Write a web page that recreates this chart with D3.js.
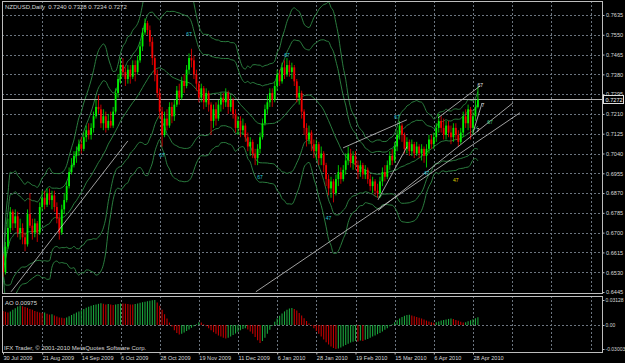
<!DOCTYPE html>
<html>
<head>
<meta charset="utf-8">
<script src="https://cdn.jsdelivr.net/npm/d3@7"></script>
<style>
	html, body { margin: 0; padding: 0; background: #000; }
	svg { display: block; }
</style>
</head>
<body>
<div id="chart"></div>
<script>
/* NZDUSD daily candles with bands, trend lines and an Awesome Oscillator pane */

const symbol = 'NZDUSD,Daily';
const firstOpen = 0.6600;

const closes = [
	0.6530, 0.6640, 0.6720, 0.6790, 0.6740, 0.6770, 0.6700, 0.6720, 0.6680, 0.6650,
	0.6780, 0.6730, 0.6700, 0.6740, 0.6700, 0.6810, 0.6850, 0.6820, 0.6870, 0.6840,
	0.6860, 0.6810, 0.6760, 0.6700, 0.6800, 0.6840, 0.6900, 0.6960, 0.6990, 0.7030,
	0.7050, 0.7080, 0.7060, 0.7110, 0.7140, 0.7120, 0.7150, 0.7200, 0.7240, 0.7230,
	0.7170, 0.7200, 0.7150, 0.7180, 0.7160, 0.7220, 0.7300, 0.7360, 0.7420, 0.7390,
	0.7360, 0.7400, 0.7370, 0.7420, 0.7390, 0.7440, 0.7500, 0.7560, 0.7600, 0.7570,
	0.7520, 0.7450, 0.7380, 0.7300, 0.7220, 0.7120, 0.7190, 0.7160, 0.7240, 0.7200,
	0.7250, 0.7310, 0.7280, 0.7350, 0.7330, 0.7400, 0.7450, 0.7440, 0.7380, 0.7340,
	0.7280, 0.7320, 0.7260, 0.7300, 0.7250, 0.7180, 0.7230, 0.7190, 0.7250, 0.7280,
	0.7260, 0.7300, 0.7240, 0.7270, 0.7210, 0.7150, 0.7180, 0.7140, 0.7160, 0.7110,
	0.7070, 0.7090, 0.7040, 0.7020, 0.7060, 0.7110, 0.7170, 0.7230, 0.7260, 0.7300,
	0.7270, 0.7330, 0.7380, 0.7350, 0.7410, 0.7380, 0.7420, 0.7390, 0.7410, 0.7350,
	0.7280, 0.7300, 0.7220, 0.7150, 0.7100, 0.7130, 0.7080, 0.7050, 0.7080, 0.7020,
	0.7040, 0.6990, 0.6930, 0.6890, 0.6920, 0.6870, 0.6930, 0.6960, 0.6930, 0.6970,
	0.7010, 0.7040, 0.7000, 0.7030, 0.6990, 0.6960, 0.6990, 0.6950, 0.6970, 0.6930,
	0.6900, 0.6920, 0.6880, 0.6870, 0.6920, 0.6960, 0.6940, 0.6990, 0.7030, 0.7010,
	0.7070, 0.7120, 0.7160, 0.7120, 0.7060, 0.7090, 0.7050, 0.7080, 0.7040, 0.7070,
	0.7040, 0.7060, 0.7030, 0.7060, 0.7100, 0.7080, 0.7110, 0.7150, 0.7180, 0.7150,
	0.7120, 0.7160, 0.7130, 0.7110, 0.7150, 0.7120, 0.7090, 0.7130, 0.7200, 0.7170,
	0.7230, 0.7150, 0.7200, 0.7240, 0.7272,
];

const highs = [
	0.6610, 0.6660, 0.6760, 0.6810, 0.6800, 0.6800, 0.6790, 0.6760, 0.6740, 0.6700,
	0.6800, 0.6870, 0.6760, 0.6760, 0.6750, 0.6830, 0.6880, 0.6880, 0.6890, 0.6890,
	0.6880, 0.6880, 0.6830, 0.6780, 0.6820, 0.6870, 0.6920, 0.6980, 0.7020, 0.7050,
	0.7070, 0.7100, 0.7110, 0.7130, 0.7160, 0.7170, 0.7170, 0.7220, 0.7270, 0.7290,
	0.7250, 0.7230, 0.7220, 0.7210, 0.7220, 0.7240, 0.7320, 0.7380, 0.7450, 0.7450,
	0.7410, 0.7420, 0.7420, 0.7440, 0.7440, 0.7460, 0.7520, 0.7580, 0.7620, 0.7610,
	0.7590, 0.7540, 0.7460, 0.7400, 0.7320, 0.7240, 0.7220, 0.7230, 0.7260, 0.7260,
	0.7270, 0.7330, 0.7340, 0.7370, 0.7380, 0.7420, 0.7470, 0.7490, 0.7460, 0.7400,
	0.7350, 0.7340, 0.7330, 0.7320, 0.7310, 0.7260, 0.7250, 0.7260, 0.7270, 0.7300,
	0.7300, 0.7320, 0.7310, 0.7290, 0.7280, 0.7230, 0.7200, 0.7200, 0.7190, 0.7170,
	0.7130, 0.7110, 0.7100, 0.7060, 0.7080, 0.7130, 0.7190, 0.7250, 0.7290, 0.7320,
	0.7320, 0.7350, 0.7400, 0.7400, 0.7430, 0.7440, 0.7450, 0.7440, 0.7430, 0.7420,
	0.7360, 0.7330, 0.7310, 0.7230, 0.7170, 0.7160, 0.7140, 0.7100, 0.7100, 0.7090,
	0.7070, 0.7050, 0.7000, 0.6950, 0.6940, 0.6930, 0.6950, 0.6990, 0.6980, 0.6990,
	0.7040, 0.7070, 0.7060, 0.7050, 0.7050, 0.7010, 0.7010, 0.7000, 0.6990, 0.6980,
	0.6950, 0.6940, 0.6930, 0.6910, 0.6940, 0.6980, 0.6990, 0.7010, 0.7050, 0.7060,
	0.7090, 0.7140, 0.7180, 0.7170, 0.7130, 0.7110, 0.7100, 0.7100, 0.7090, 0.7090,
	0.7080, 0.7080, 0.7070, 0.7080, 0.7120, 0.7120, 0.7130, 0.7170, 0.7210, 0.7200,
	0.7190, 0.7180, 0.7180, 0.7160, 0.7170, 0.7170, 0.7140, 0.7150, 0.7220, 0.7230,
	0.7250, 0.7240, 0.7220, 0.7270, 0.7328,
];

const lows = [
	0.6510, 0.6520, 0.6630, 0.6700, 0.6710, 0.6720, 0.6680, 0.6670, 0.6650, 0.6620,
	0.6640, 0.6720, 0.6670, 0.6680, 0.6660, 0.6690, 0.6790, 0.6800, 0.6810, 0.6820,
	0.6800, 0.6790, 0.6740, 0.6670, 0.6690, 0.6780, 0.6830, 0.6890, 0.6950, 0.6980,
	0.7000, 0.7030, 0.7040, 0.7050, 0.7090, 0.7100, 0.7100, 0.7130, 0.7190, 0.7210,
	0.7150, 0.7140, 0.7130, 0.7140, 0.7150, 0.7150, 0.7210, 0.7280, 0.7340, 0.7370,
	0.7330, 0.7340, 0.7340, 0.7360, 0.7350, 0.7380, 0.7430, 0.7480, 0.7550, 0.7550,
	0.7500, 0.7420, 0.7350, 0.7280, 0.7190, 0.7070, 0.7110, 0.7140, 0.7150, 0.7170,
	0.7180, 0.7240, 0.7250, 0.7270, 0.7300, 0.7320, 0.7380, 0.7410, 0.7360, 0.7310,
	0.7260, 0.7260, 0.7230, 0.7240, 0.7220, 0.7120, 0.7150, 0.7160, 0.7180, 0.7220,
	0.7230, 0.7240, 0.7210, 0.7220, 0.7190, 0.7130, 0.7120, 0.7110, 0.7120, 0.7090,
	0.7050, 0.7030, 0.7020, 0.6990, 0.6990, 0.7040, 0.7100, 0.7160, 0.7210, 0.7240,
	0.7240, 0.7260, 0.7310, 0.7330, 0.7340, 0.7360, 0.7370, 0.7370, 0.7360, 0.7330,
	0.7260, 0.7250, 0.7190, 0.7120, 0.7070, 0.7080, 0.7050, 0.7020, 0.7010, 0.6990,
	0.6990, 0.6960, 0.6900, 0.6860, 0.6850, 0.6830, 0.6860, 0.6900, 0.6910, 0.6920,
	0.6950, 0.6990, 0.6980, 0.6970, 0.6970, 0.6930, 0.6940, 0.6930, 0.6930, 0.6910,
	0.6880, 0.6870, 0.6860, 0.6850, 0.6850, 0.6900, 0.6920, 0.6930, 0.6970, 0.6990,
	0.7000, 0.7050, 0.7100, 0.7090, 0.7040, 0.7040, 0.7030, 0.7030, 0.7020, 0.7030,
	0.7020, 0.7010, 0.7000, 0.6980, 0.7040, 0.7060, 0.7060, 0.7090, 0.7130, 0.7130,
	0.7100, 0.7100, 0.7110, 0.7080, 0.7090, 0.7100, 0.7070, 0.7080, 0.7110, 0.7150,
	0.7140, 0.7100, 0.7120, 0.7180, 0.7234,
];

const aoValues = [
	0.0175, 0.0165, 0.0155, 0.0170, 0.0190, 0.0210, 0.0230, 0.0245, 0.0235, 0.0225,
	0.0215, 0.0200, 0.0190, 0.0175, 0.0165, 0.0155, 0.0150, 0.0155, 0.0140, 0.0130,
	0.0135, 0.0120, 0.0105, 0.0095, 0.0090, 0.0085, 0.0095, 0.0110, 0.0125, 0.0140,
	0.0155, 0.0170, 0.0185, 0.0200, 0.0215, 0.0228, 0.0240, 0.0250, 0.0258, 0.0265,
	0.0272, 0.0265, 0.0258, 0.0262, 0.0255, 0.0250, 0.0256, 0.0262, 0.0270, 0.0268,
	0.0265, 0.0262, 0.0258, 0.0255, 0.0262, 0.0270, 0.0278, 0.0285, 0.0292, 0.0298,
	0.0304, 0.0309, 0.03128, 0.0280, 0.0240, 0.0190, 0.0135, 0.0080, 0.0030, -0.0020,
	-0.0065, -0.0100, -0.0120, -0.0110, -0.0095, -0.0075, -0.0055, -0.0035, -0.0015, 0.0010,
	0.0035, 0.0030, 0.0010, -0.0015, -0.0040, -0.0065, -0.0090, -0.0110, -0.0130, -0.0145,
	-0.0160, -0.0170, -0.0160, -0.0145, -0.0125, -0.0105, -0.0085, -0.0065, -0.0050, -0.0040,
	-0.0055, -0.0080, -0.0110, -0.0150, -0.0190, -0.0225, -0.0200, -0.0160, -0.0110, -0.0060,
	-0.0010, 0.0040, 0.0080, 0.0115, 0.0145, 0.0170, 0.0190, 0.0205, 0.0212, 0.0200,
	0.0180, 0.0150, 0.0120, 0.0085, 0.0050, 0.0020, -0.0010, -0.0040, -0.0075, -0.0110,
	-0.0145, -0.0180, -0.0215, -0.0245, -0.0270, -0.0288, -0.03003, -0.0295, -0.0280, -0.0265,
	-0.0250, -0.0235, -0.0220, -0.0210, -0.0200, -0.0205, -0.0195, -0.0200, -0.0185, -0.0175,
	-0.0160, -0.0145, -0.0130, -0.0115, -0.0100, -0.0080, -0.0060, -0.0040, -0.0015, 0.0010,
	0.0035, 0.0060, 0.0080, 0.0100, 0.0115, 0.0125, 0.0128, 0.0120, 0.0110, 0.0100,
	0.0090, 0.0080, 0.0070, 0.0055, 0.0045, 0.0035, 0.0028, 0.0035, 0.0045, 0.0055,
	0.0062, 0.0070, 0.0076, 0.0080, 0.0074, 0.0064, 0.0052, 0.0040, 0.0030, 0.0035,
	0.0048, 0.0060, 0.0072, 0.0085, 0.00975,
];

const priceTicks = [
	0.7635, 0.7550, 0.7465, 0.7380, 0.7295, 0.7210, 0.7125, 0.7040,
	0.6955, 0.6870, 0.6785, 0.6700, 0.6615, 0.6530, 0.6445,
];
const aoTicks = [ 0.03128, 0, -0.03003 ];

const dateLabels = [
	'30 Jul 2009', '21 Aug 2009', '14 Sep 2009', '6 Oct 2009', '28 Oct 2009',
	'19 Nov 2009', '11 Dec 2009', '6 Jan 2010', '28 Jan 2010', '19 Feb 2010',
	'15 Mar 2010', '6 Apr 2010', '28 Apr 2010',
];
const barsPerLabel = 16;

// [ bar, price, bar, price ]
const trendLines = [
	[ 3.3, 0.6446, 51, 0.7094 ],
	[ 103.3, 0.6446, 211.2, 0.7215 ],
	[ 153.2, 0.6795, 208.3, 0.7257 ],
	[ 153.2, 0.6841, 165, 0.7069 ],
	[ 138.9, 0.7064, 165, 0.7185 ],
	[ 177.7, 0.7193, 194.9, 0.7330 ],
	[ 192, 0.7129, 195.7, 0.7257 ],
];

// [ bar, price, text ]
const cyanMarks = [
	[ 76, 0.7553, '67' ], [ 65, 0.7034, '67' ], [ 116, 0.7463, '67' ],
	[ 105, 0.6940, '67' ], [ 133, 0.6764, '47' ], [ 161, 0.7197, '67' ],
	[ 173, 0.6957, '47' ],
];
const yellowMarks = [ [ 185, 0.6927, '47' ] ];
const greenMarks = [ [ 199, 0.7176, '67' ] ];
const whiteMarks = [ [ 195, 0.7335, '67' ], [ 196, 0.7250, '7' ], [ 194, 0.7140, '7' ] ];

const bandPeriod = 20;
const bandDeviations = [ 2, 3 ];

const W = 625;
const H = 363;
const plotLeft = 2;
const plotRight = 602;
const mainTop = 1;
const mainBottom = 293;
const subTop = 296;
const subBottom = 352;
const font = '"Liberation Sans", Arial, sans-serif';
const textColor = '#d8d8d8';
const gridColor = '#6c7580';

const x = d3.scaleLinear().domain( [ 0, 192 ] ).range( [ 3, 473 ] );
const y = d3.scaleLinear().domain( [ 0.6445, 0.7635 ] ).range( [ 292, 15 ] );
const yAo = d3.scaleLinear().domain( [ -0.03003, 0.03128 ] ).range( [ 349, 300 ] );

const svg = d3.select( '#chart' )
	.append( 'svg' )
	.attr( 'width', W )
	.attr( 'height', H )
	.style( 'background', '#000' );

svg.append( 'clipPath' ).attr( 'id', 'clip-main' )
	.append( 'rect' )
	.attr( 'x', plotLeft ).attr( 'y', mainTop )
	.attr( 'width', plotRight - plotLeft ).attr( 'height', mainBottom - mainTop );

svg.append( 'clipPath' ).attr( 'id', 'clip-sub' )
	.append( 'rect' )
	.attr( 'x', plotLeft ).attr( 'y', subTop )
	.attr( 'width', plotRight - plotLeft ).attr( 'height', subBottom - subTop );

// grid
const grid = svg.append( 'g' )
	.attr( 'stroke', gridColor )
	.attr( 'stroke-width', 1 )
	.attr( 'stroke-dasharray', '2,2' )
	.attr( 'shape-rendering', 'crispEdges' );

grid.selectAll( '.hgrid' )
	.data( priceTicks.slice( 0, -1 ) )
	.enter()
	.append( 'line' )
	.attr( 'x1', plotLeft ).attr( 'x2', plotRight )
	.attr( 'y1', ( d ) => Math.round( y( d ) ) + 0.5 )
	.attr( 'y2', ( d ) => Math.round( y( d ) ) + 0.5 );

grid.append( 'line' )
	.attr( 'x1', plotLeft ).attr( 'x2', plotRight )
	.attr( 'y1', Math.round( yAo( 0 ) ) + 0.5 )
	.attr( 'y2', Math.round( yAo( 0 ) ) + 0.5 );

const gridBars = d3.range( 1, 16 ).map( ( k ) => k * barsPerLabel ).filter( ( b ) => x( b ) < plotRight );
[ [ mainTop, mainBottom ], [ subTop, subBottom ] ].forEach( ( [ t, b ] ) => {
	grid.selectAll( null )
		.data( gridBars )
		.enter()
		.append( 'line' )
		.attr( 'x1', ( d ) => Math.round( x( d ) ) + 0.5 )
		.attr( 'x2', ( d ) => Math.round( x( d ) ) + 0.5 )
		.attr( 'y1', t ).attr( 'y2', b );
} );

// bands
const main = svg.append( 'g' ).attr( 'clip-path', 'url(#clip-main)' );

const bands = closes.map( ( c, i ) => {
	const win = closes.slice( Math.max( 0, i - bandPeriod + 1 ), i + 1 );
	const mean = d3.mean( win );
	const sd = Math.sqrt( d3.mean( win, ( v ) => ( v - mean ) * ( v - mean ) ) );
	return { i, mean, sd };
} );

const bandLine = ( k ) => d3.line()
	.x( ( d ) => x( d.i ) )
	.y( ( d ) => y( d.mean + k * d.sd ) )
	.curve( d3.curveMonotoneX );

[ 0 ].concat( bandDeviations, bandDeviations.map( ( k ) => -k ) ).forEach( ( k ) => {
	main.append( 'path' )
		.datum( bands )
		.attr( 'd', bandLine( k ) )
		.attr( 'fill', 'none' )
		.attr( 'stroke', '#2f8a45' )
		.attr( 'stroke-width', 0.9 );
} );

// bid line
main.append( 'line' )
	.attr( 'x1', plotLeft ).attr( 'x2', plotRight )
	.attr( 'y1', Math.round( y( closes[ closes.length - 1 ] ) ) + 0.5 )
	.attr( 'y2', Math.round( y( closes[ closes.length - 1 ] ) ) + 0.5 )
	.attr( 'stroke', '#b4b4b4' )
	.attr( 'stroke-width', 1 );

// candles
const candles = closes.map( ( c, i ) => {
	const o = i === 0 ? firstOpen : closes[ i - 1 ];
	return { i, o, c, h: Math.max( highs[ i ], o, c ), l: Math.min( lows[ i ], o, c ) };
} );
const candleColor = ( d ) => ( d.c >= d.o ? '#00f000' : '#f00000' );

const cg = main.append( 'g' );
cg.selectAll( '.wick' )
	.data( candles )
	.enter()
	.append( 'line' )
	.attr( 'x1', ( d ) => x( d.i ) )
	.attr( 'x2', ( d ) => x( d.i ) )
	.attr( 'y1', ( d ) => y( d.h ) )
	.attr( 'y2', ( d ) => y( d.l ) )
	.attr( 'stroke', candleColor )
	.attr( 'stroke-width', 0.8 );

cg.selectAll( '.body' )
	.data( candles )
	.enter()
	.append( 'rect' )
	.attr( 'x', ( d ) => x( d.i ) - 0.9 )
	.attr( 'width', 1.8 )
	.attr( 'y', ( d ) => y( Math.max( d.o, d.c ) ) )
	.attr( 'height', ( d ) => Math.max( 0.8, Math.abs( y( d.o ) - y( d.c ) ) ) )
	.attr( 'fill', candleColor );

// trend lines
main.selectAll( '.trend' )
	.data( trendLines )
	.enter()
	.append( 'line' )
	.attr( 'x1', ( d ) => x( d[ 0 ] ) )
	.attr( 'y1', ( d ) => y( d[ 1 ] ) )
	.attr( 'x2', ( d ) => x( d[ 2 ] ) )
	.attr( 'y2', ( d ) => y( d[ 3 ] ) )
	.attr( 'stroke', '#c8c8c8' )
	.attr( 'stroke-width', 0.8 );

// wave marks
const drawMarks = ( marks, color ) => {
	main.selectAll( null )
		.data( marks )
		.enter()
		.append( 'text' )
		.attr( 'x', ( d ) => x( d[ 0 ] ) )
		.attr( 'y', ( d ) => y( d[ 1 ] ) + 2 )
		.attr( 'text-anchor', 'middle' )
		.attr( 'font-family', font )
		.attr( 'font-size', 5 )
		.attr( 'fill', color )
		.text( ( d ) => d[ 2 ] );
};
drawMarks( cyanMarks, '#22c8d8' );
drawMarks( yellowMarks, '#e0d000' );
drawMarks( greenMarks, '#40d080' );
drawMarks( whiteMarks, '#e8e8e8' );

// AO histogram
const sub = svg.append( 'g' ).attr( 'clip-path', 'url(#clip-sub)' );
sub.selectAll( '.ao' )
	.data( aoValues )
	.enter()
	.append( 'line' )
	.attr( 'x1', ( d, i ) => x( i ) )
	.attr( 'x2', ( d, i ) => x( i ) )
	.attr( 'y1', yAo( 0 ) )
	.attr( 'y2', ( d ) => yAo( d ) )
	.attr( 'stroke', ( d, i ) => ( i > 0 && d > aoValues[ i - 1 ] ? '#1aa33c' : '#c00000' ) )
	.attr( 'stroke-width', 1.1 );

// frames
const frame = svg.append( 'g' )
	.attr( 'fill', 'none' )
	.attr( 'stroke', '#bdbdbd' )
	.attr( 'stroke-width', 1 )
	.attr( 'shape-rendering', 'crispEdges' );
frame.append( 'rect' )
	.attr( 'x', plotLeft + 0.5 ).attr( 'y', mainTop + 0.5 )
	.attr( 'width', plotRight - plotLeft ).attr( 'height', mainBottom - mainTop );
frame.append( 'rect' )
	.attr( 'x', plotLeft + 0.5 ).attr( 'y', subTop + 0.5 )
	.attr( 'width', plotRight - plotLeft ).attr( 'height', subBottom - subTop );

// axes
const styleAxis = ( size ) => ( g ) => {
	g.select( '.domain' ).remove();
	g.selectAll( 'line' ).attr( 'stroke', '#bdbdbd' );
	g.selectAll( 'text' )
		.attr( 'fill', textColor )
		.attr( 'font-family', font )
		.attr( 'font-size', size );
};

svg.append( 'g' )
	.attr( 'transform', `translate(${ plotRight + 0.5 },0)` )
	.call( d3.axisRight( y ).tickValues( priceTicks ).tickFormat( d3.format( '.4f' ) ).tickSize( 2 ).tickPadding( 1.5 ) )
	.call( styleAxis( 5.6 ) );

svg.append( 'g' )
	.attr( 'transform', `translate(${ plotRight + 0.5 },0)` )
	.call( d3.axisRight( yAo ).tickValues( aoTicks )
		.tickFormat( ( d ) => ( d === 0 ? '0.00' : String( d ) ) )
		.tickSize( 2 ).tickPadding( 1 ) )
	.call( styleAxis( 5 ) );

svg.append( 'g' )
	.attr( 'transform', `translate(0,${ subBottom + 0.5 })` )
	.call( d3.axisBottom( x )
		.tickValues( dateLabels.map( ( d, k ) => k * barsPerLabel ) )
		.tickFormat( ( d, k ) => dateLabels[ k ] )
		.tickSize( 2 ).tickPadding( 1.5 ) )
	.call( styleAxis( 5.6 ) )
	.selectAll( 'text' )
	.attr( 'text-anchor', 'start' );

// bid price tag
const bid = closes[ closes.length - 1 ];
const tag = svg.append( 'g' ).attr( 'transform', `translate(${ plotRight + 1 },${ Math.round( y( bid ) ) - 4 })` );
tag.append( 'rect' )
	.attr( 'x', 0.5 ).attr( 'y', 0.5 )
	.attr( 'width', 20 ).attr( 'height', 8 )
	.attr( 'fill', '#000' )
	.attr( 'stroke', '#e0e0e0' );
tag.append( 'text' )
	.attr( 'x', 2.5 ).attr( 'y', 6.8 )
	.attr( 'fill', '#ffffff' )
	.attr( 'font-family', font )
	.attr( 'font-size', 5.6 )
	.text( d3.format( '.4f' )( bid ) );

// captions
const last = candles[ candles.length - 1 ];
svg.append( 'text' )
	.attr( 'x', 5 ).attr( 'y', 9 )
	.attr( 'fill', textColor )
	.attr( 'font-family', font )
	.attr( 'font-size', 6 )
	.attr( 'xml:space', 'preserve' )
	.text( `${ symbol}  ${ [ last.o, highs[ 194 ], lows[ 194 ], last.c ].map( d3.format( '.4f' ) ).join( ' ' ) }` );

svg.append( 'text' )
	.attr( 'x', 5 ).attr( 'y', 304.5 )
	.attr( 'fill', textColor )
	.attr( 'font-family', font )
	.attr( 'font-size', 6 )
	.text( `AO ${ aoValues[ aoValues.length - 1 ] }` );

svg.append( 'text' )
	.attr( 'x', 4 ).attr( 'y', 349.5 )
	.attr( 'fill', textColor )
	.attr( 'font-family', font )
	.attr( 'font-size', 6 )
	.text( 'IFX Trader, © 2001-2010 MetaQuotes Software Corp.' );
</script>
</body>
</html>
